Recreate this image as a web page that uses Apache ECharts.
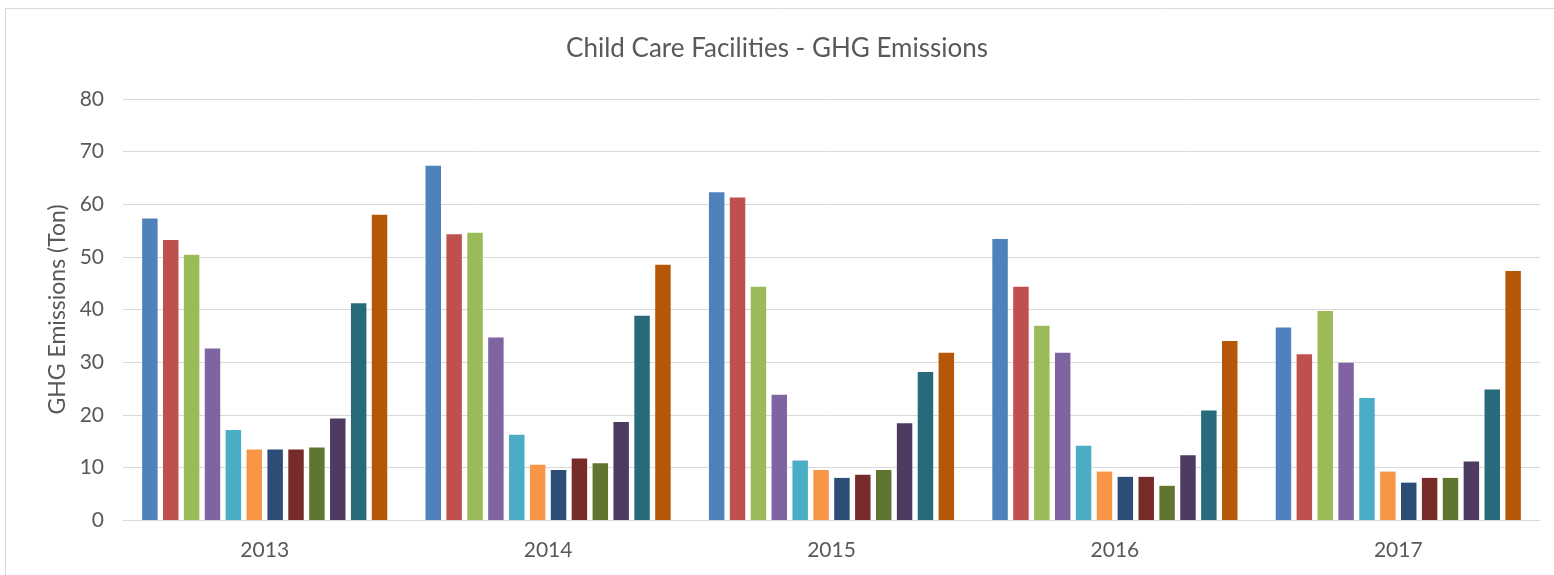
<!DOCTYPE html>
<html>
<head>
<meta charset="utf-8">
<script src="https://cdn.jsdelivr.net/npm/echarts@6/dist/echarts.min.js"></script>
<style>html,body{margin:0;padding:0;background:#fff}#c{width:1554px;height:575px}</style>
</head>
<body>
<div id="c"></div>
<script>
const categories = ['2013', '2014', '2015', '2016', '2017'];
const s1 = [57.3, 67.3, 62.3, 53.4, 36.6];
const s2 = [53.2, 54.3, 61.3, 44.3, 31.5];
const s3 = [50.4, 54.6, 44.3, 36.9, 39.7];
const s4 = [32.6, 34.7, 23.8, 31.8, 29.9];
const s5 = [17.1, 16.2, 11.3, 14.1, 23.2];
const s6 = [13.4, 10.5, 9.5, 9.2, 9.2];
const s7 = [13.4, 9.5, 8.0, 8.2, 7.1];
const s8 = [13.4, 11.7, 8.6, 8.2, 8.0];
const s9 = [13.8, 10.8, 9.5, 6.5, 8.0];
const s10 = [19.3, 18.6, 18.4, 12.3, 11.1];
const s11 = [41.2, 38.8, 28.1, 20.8, 24.8];
const s12 = [58.0, 48.5, 31.8, 34.0, 47.3];
const seriesData = [s1, s2, s3, s4, s5, s6, s7, s8, s9, s10, s11, s12];
const colors = ['#4F81BD', '#C0504D', '#9BBB59', '#8064A2', '#4BACC6', '#F79646',
                '#2C4D75', '#772C2A', '#5F7530', '#4D3B62', '#276A7C', '#B65708'];
const yTicks = [0, 10, 20, 30, 40, 50, 60, 70, 80];

const font = 'Lato, "Open Sans", sans-serif';
const chart = echarts.init(document.getElementById('c'), null, {renderer: 'canvas'});
chart.setOption({
  backgroundColor: '#ffffff',
  animation: false,
  color: colors,
  title: {
    text: 'Child Care Facilities - GHG Emissions',
    left: 'center',
    top: 31,
    textStyle: {fontFamily: font, fontSize: 26, fontWeight: 'normal', color: '#595959'}
  },
  graphic: [{
    type: 'rect',
    shape: {x: 5.5, y: 8.5, width: 1600, height: 600},
    style: {fill: 'none', stroke: '#d9d9d9', lineWidth: 1},
    silent: true
  }],
  grid: {left: 123, right: 14, top: 99, bottom: 55},
  xAxis: {
    type: 'category',
    data: categories,
    axisLine: {show: true, lineStyle: {color: '#d9d9d9'}},
    axisTick: {show: false},
    axisLabel: {fontFamily: font, fontSize: 21, color: '#595959', margin: 20}
  },
  yAxis: {
    type: 'value',
    min: yTicks[0],
    max: yTicks[yTicks.length - 1],
    interval: 10,
    name: 'GHG Emissions (Ton)',
    nameLocation: 'middle',
    nameGap: 60,
    nameTextStyle: {fontFamily: font, fontSize: 23, color: '#595959', verticalAlign: 'middle'},
    axisLine: {show: false},
    axisTick: {show: false},
    axisLabel: {fontFamily: font, fontSize: 21, color: '#595959', margin: 19},
    splitLine: {lineStyle: {color: '#d9d9d9', width: 1}}
  },
  series: seriesData.map((d, i) => ({
    type: 'bar',
    name: 'S' + (i + 1),
    data: d,
    barGap: '35%',
    barCategoryGap: '13.5%',
    itemStyle: {color: colors[i]}
  }))
});
</script>
</body>
</html>
